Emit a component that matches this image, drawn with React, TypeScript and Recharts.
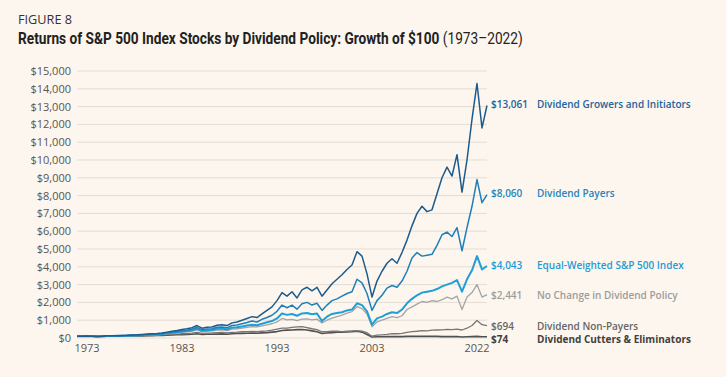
import React, { useLayoutEffect, useRef, useState } from 'react';
import { LineChart, Line, XAxis, YAxis, CartesianGrid, LabelList } from 'recharts';

// Growth of $100, sampled along the period axis
const growers = [100,100,110,100,90,100,120,130,130,140,150,170,180,200,220,240,250,280,330,380,420,480,520,580,700,550,600,620,720,750,700,850,900,1000,1100,1200,1150,1350,1550,1750,2100,2550,2350,2600,2250,2700,2850,2650,2850,2350,2700,3050,3300,3550,3850,4100,4850,4600,3600,2300,3200,3750,4200,4450,4200,4800,5500,6300,7000,7400,7100,7200,8100,9000,9600,9100,10300,8200,10000,12300,14300,11800,13061];
const payers = [100,100,100,100,90,100,110,120,120,130,140,150,160,180,190,210,220,250,290,330,360,410,440,490,600,470,500,520,600,620,570,700,730,800,870,950,900,1050,1150,1280,1500,1850,1700,1850,1620,1920,2000,1850,1950,1550,1850,2100,2200,2350,2500,2600,3300,3100,2500,1550,2100,2400,2800,2950,2850,3200,3750,4500,4800,4600,4650,4700,5200,5800,5950,5700,6200,4900,6200,7400,8900,7600,8060];
const equalWeighted = [100,100,100,100,90,100,110,110,120,120,130,140,150,160,170,190,200,220,260,290,320,360,390,430,520,400,430,450,520,530,480,580,600,650,700,750,720,800,880,950,1100,1380,1300,1350,1250,1380,1400,1330,1380,950,1200,1350,1400,1450,1550,1600,1950,1850,1500,750,1100,1200,1350,1450,1400,1600,1950,2200,2400,2550,2600,2650,2750,2900,3000,3100,3250,2600,3300,3800,4600,3850,4043];
const noChange = [100,100,100,100,90,100,100,110,110,120,120,130,140,150,160,170,180,200,230,260,280,320,340,380,450,360,380,400,450,460,420,500,520,560,600,640,620,680,740,800,900,1100,1020,1050,980,1060,1080,1020,1060,840,1000,1120,1200,1280,1400,1480,1760,1650,1350,630,900,1000,1100,1200,1150,1250,1600,1750,1900,2050,2000,2100,2050,2150,2300,2200,2350,1600,2300,2550,3000,2300,2441];
const nonPayers = [100,100,100,100,90,90,100,100,100,110,110,120,120,130,140,150,160,170,190,200,220,240,250,270,320,260,270,280,300,310,280,320,330,350,360,370,360,380,400,440,500,550,560,600,620,640,580,520,470,350,360,380,380,360,380,400,420,380,300,100,160,180,200,250,240,260,320,360,380,420,400,440,450,460,480,470,500,450,550,700,980,750,694];
const cutters = [100,100,100,100,90,90,100,100,100,100,110,110,120,120,130,130,140,150,160,170,180,190,200,210,240,200,210,210,220,230,210,240,250,260,270,280,270,290,300,330,360,420,440,450,470,480,450,400,350,250,280,300,320,330,340,350,380,330,200,60,70,70,80,80,80,80,90,90,90,90,90,90,90,80,80,80,80,60,70,80,90,70,74];

const tickLabels = ['1973', '1983', '1993', '2003', '2022'];
const tickPeriods = [2, 21, 40, 59, 80];
const yTicks = [0, 1000, 2000, 3000, 4000, 5000, 6000, 7000, 8000, 9000, 10000, 11000, 12000, 13000, 14000, 15000];

const seriesNames = [
  'Dividend Cutters & Eliminators',
  'Dividend Non-Payers',
  'No Change in Dividend Policy',
  'Equal-Weighted S&P 500 Index',
  'Dividend Payers',
  'Dividend Growers and Initiators',
];

const rows = growers.map((_, i) => ({
  period: i,
  growers: growers[i],
  payers: payers[i],
  equalWeighted: equalWeighted[i],
  noChange: noChange[i],
  nonPayers: nonPayers[i],
  cutters: cutters[i],
}));

const LAST = growers.length - 1;
const BG = '#fdf6ee';

const fmtMoney = (v: number) => '$' + v.toLocaleString('en-US');

const makeEndLabel = (name: string, color: string, dy: number, weight: number) => (props: any) => {
  const { x, y, index, value } = props;
  if (index !== LAST) return null;
  return (
    <g>
      <text x={x + 4} y={y + dy} dominantBaseline="central" fill={color} fontSize={10} fontWeight={weight} fontFamily='"Open Sans", sans-serif'>
        {fmtMoney(value)}
      </text>
      <text x={x + 50} y={y + dy} dominantBaseline="central" fill={color} fontSize={10} fontWeight={weight} fontFamily='"Open Sans", sans-serif'>
        {name}
      </text>
    </g>
  );
};

const series = [
  { key: 'cutters', name: seriesNames[0], color: '#505050', text: '#404040', width: 1.6, dy: 2.5, weight: 700 },
  { key: 'nonPayers', name: seriesNames[1], color: '#767676', text: '#666666', width: 1.3, dy: 0, weight: 600 },
  { key: 'noChange', name: seriesNames[2], color: '#a4a4a4', text: '#9c9c9c', width: 1.3, dy: 0, weight: 600 },
  { key: 'equalWeighted', name: seriesNames[3], color: '#1f9fd8', text: '#1c9bd6', width: 2, dy: -1, weight: 600 },
  { key: 'payers', name: seriesNames[4], color: '#1f7fb8', text: '#2585bf', width: 1.5, dy: -1.5, weight: 600 },
  { key: 'growers', name: seriesNames[5], color: '#1d5b8c', text: '#24639a', width: 1.5, dy: -1.5, weight: 600 },
];

function Title() {
  const ref = useRef<SVGTextElement>(null);
  const [sx, setSx] = useState(0.82);
  useLayoutEffect(() => {
    if (ref.current) {
      const w = ref.current.getBBox().width;
      if (w > 0) setSx(505 / w);
    }
  }, []);
  return (
    <g transform={`translate(18,44) scale(${sx},1)`}>
      <text ref={ref} x={0} y={0} fontSize={16} fill="#222" fontFamily="Roboto, sans-serif">
        <tspan fontWeight={700}>Returns of S&amp;P 500 Index Stocks by Dividend Policy: Growth of $100</tspan>
        <tspan fontWeight={400}> (1973–2022)</tspan>
      </text>
    </g>
  );
}

export default function App() {
  return (
    <div style={{ position: 'absolute', left: 0, top: 0, width: 726, height: 377, background: BG, overflow: 'hidden' }}>
      <svg width={726} height={60} style={{ position: 'absolute', left: 0, top: 0 }}>
        <text x={18} y={24} fontSize={12.5} fill="#333" fontFamily='"Open Sans", sans-serif' textLength={54} lengthAdjust="spacingAndGlyphs">FIGURE 8</text>
        <Title />
      </svg>
      <div style={{ position: 'absolute', left: 0, top: 0 }}>
        <LineChart width={726} height={377} data={rows} margin={{ top: 71, right: 239, bottom: 9, left: 17 }}>
          <CartesianGrid vertical={false} stroke="#e2ddd5" strokeWidth={1} />
          <XAxis
            dataKey="period"
            type="number"
            domain={[0, LAST]}
            ticks={tickPeriods}
            interval={0}
            tickFormatter={(v: number) => tickLabels[tickPeriods.indexOf(v)] ?? ''}
            tickLine={false}
            axisLine={false}
            tickSize={0}
            tickMargin={6}
            height={30}
            tick={{ fill: '#555', fontSize: 11, fontFamily: '"Open Sans", sans-serif' }}
          />
          <YAxis
            domain={[0, 15000]}
            ticks={yTicks}
            interval={0}
            tickFormatter={(v: number) => fmtMoney(v)}
            tickLine={false}
            axisLine={false}
            tickSize={0}
            tickMargin={6}
            width={60}
            tick={{ fill: '#555', fontSize: 11, fontFamily: '"Open Sans", sans-serif' }}
          />
          {series.map((s) => (
            <Line
              key={s.key}
              type="linear"
              dataKey={s.key}
              name={s.name}
              stroke={s.color}
              strokeWidth={s.width}
              dot={false}
              strokeLinejoin="round"
              isAnimationActive={false}
            >
              <LabelList dataKey={s.key} content={makeEndLabel(s.name, s.text, s.dy, s.weight)} />
            </Line>
          ))}
        </LineChart>
      </div>
    </div>
  );
}
